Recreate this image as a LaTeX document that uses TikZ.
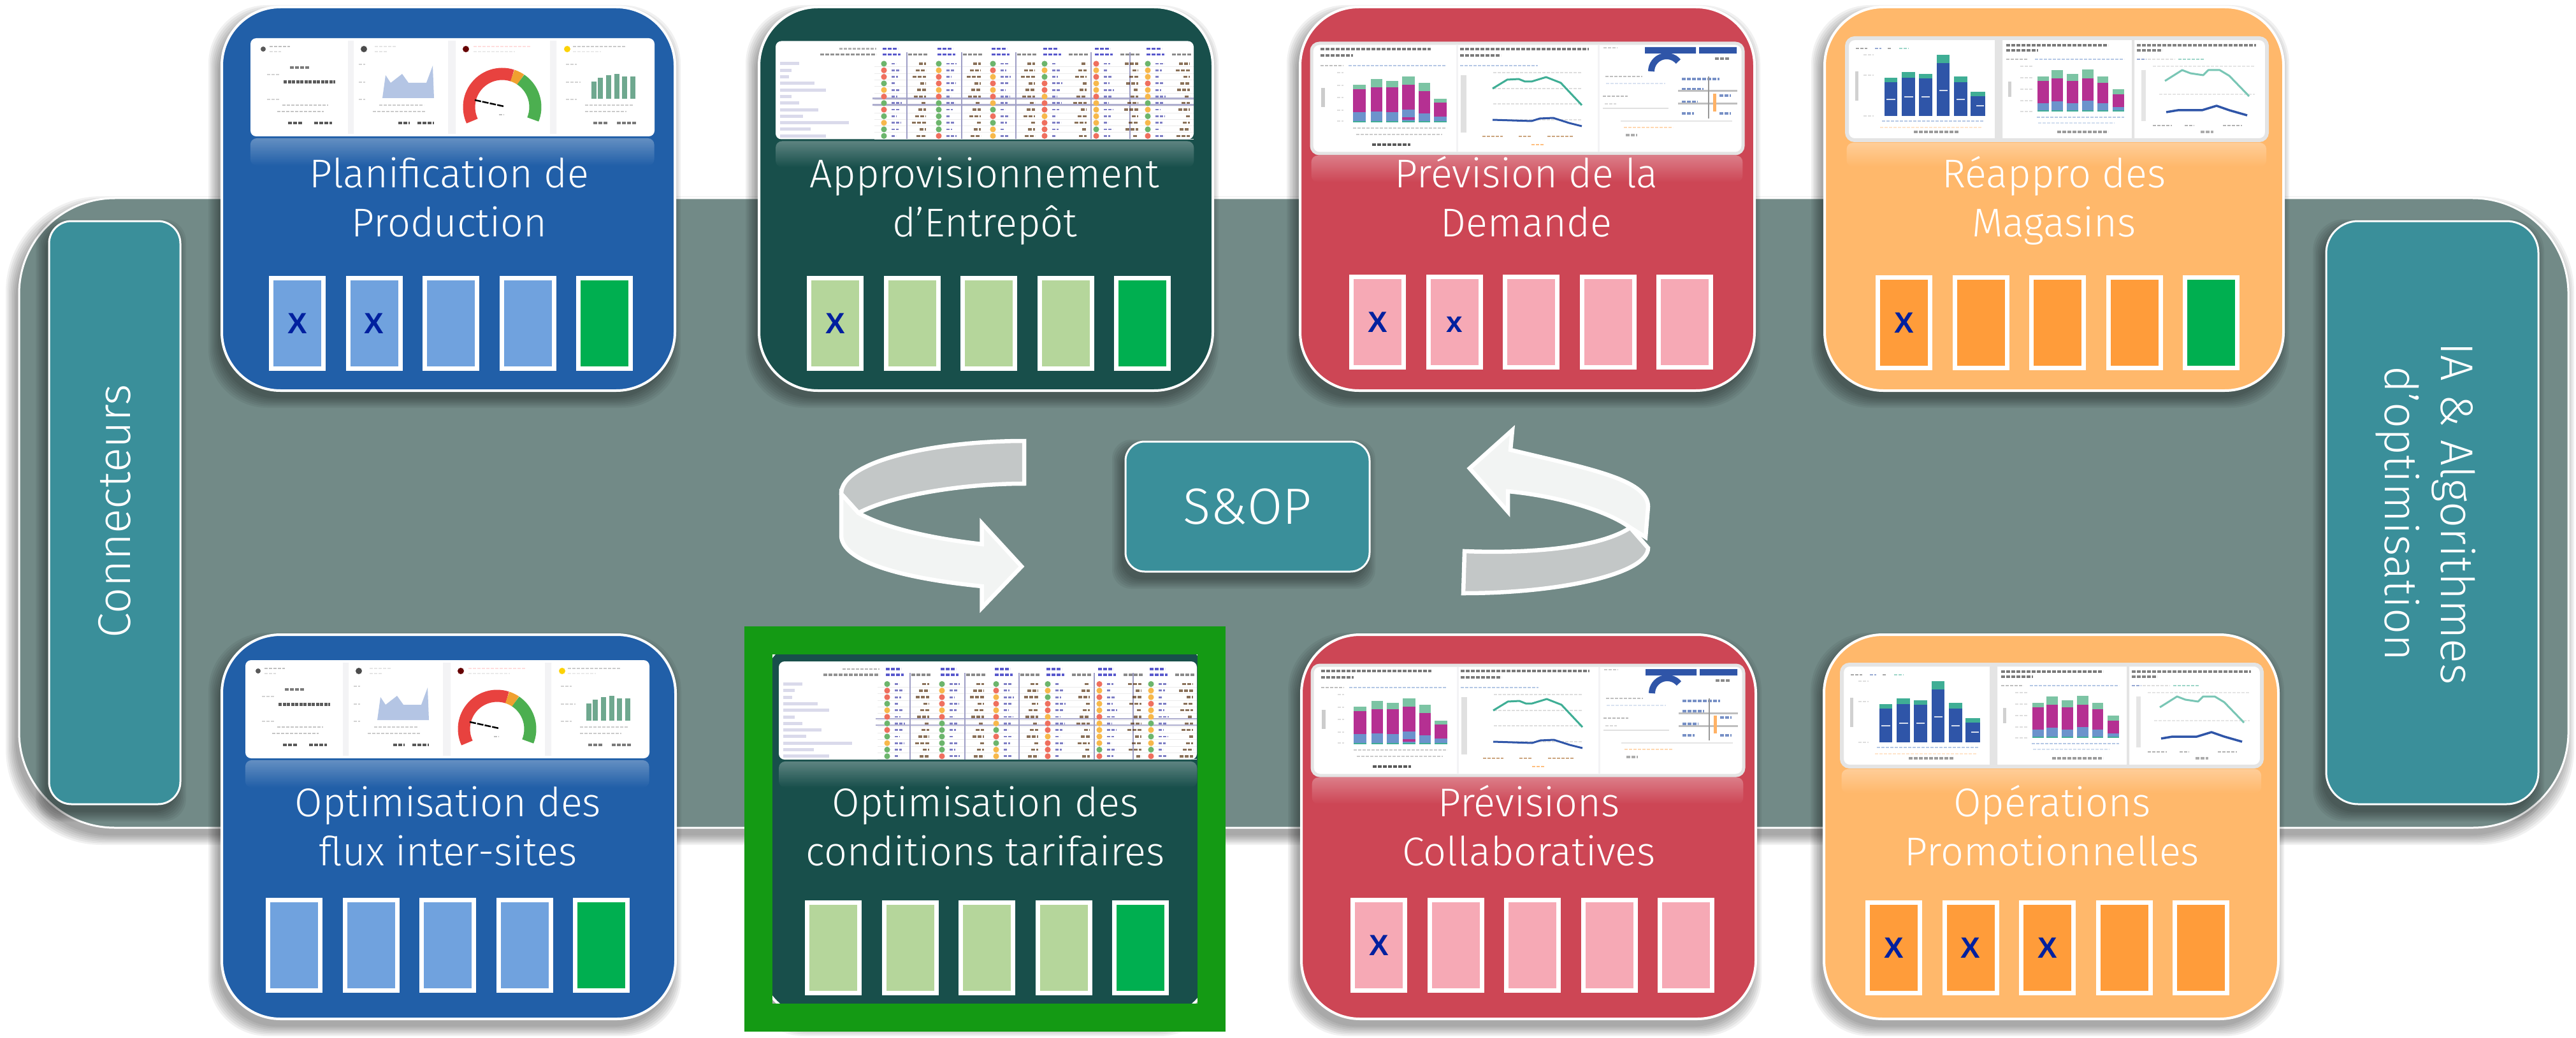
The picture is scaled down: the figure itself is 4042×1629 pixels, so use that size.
\documentclass[tikz,border=0pt]{standalone}
\usepackage{fontspec}
\setmainfont{Liberation Sans}
\newfontfamily\labelfont{Fira Sans Light}
\usetikzlibrary{fadings}
\definecolor{bandc}{HTML}{728A87}
\definecolor{tealc}{HTML}{3A8F9A}
\definecolor{bluec}{HTML}{215FA8}
\definecolor{blues}{HTML}{70A2DE}
\definecolor{greenc}{HTML}{184F4B}
\definecolor{greens}{HTML}{B5D69B}
\definecolor{redc}{HTML}{CD4655}
\definecolor{reds}{HTML}{F6A9B5}
\definecolor{orc}{HTML}{FFB86B}
\definecolor{ors}{HTML}{FF9C3A}
\definecolor{okc}{HTML}{00AF50}
\definecolor{xc}{HTML}{00209F}
\definecolor{framec}{HTML}{149A14}
\definecolor{arrf}{HTML}{F2F4F3}
\definecolor{arrb}{HTML}{C3C7C7}
\definecolor{mint}{HTML}{7CC4A4}
\definecolor{magen}{HTML}{B53092}
\definecolor{midb}{HTML}{6C93CC}
\definecolor{tealb}{HTML}{3FAE95}
\definecolor{darkb}{HTML}{2F55A8}
\definecolor{dotg}{HTML}{6CB56C}
\definecolor{dotr}{HTML}{EF6F5E}
\definecolor{doto}{HTML}{F7B84B}
\definecolor{gaugeg}{HTML}{4CAF50}
\definecolor{gauger}{HTML}{E8423F}
\definecolor{gaugeo}{HTML}{F0A030}
\definecolor{barg}{HTML}{6FA88F}
\definecolor{areab}{HTML}{B4C5E4}
\definecolor{sepc}{HTML}{F3F3F5}
\definecolor{pborder}{HTML}{E4E4E4}
\tikzfading[name=fadedown, top color=transparent!0, bottom color=transparent!100]
\tikzset{
  x=1pt,y=-1pt,
  cardbox/.style={draw=white,line width=4pt,rounded corners=92pt,inner sep=0pt},
  sidebox/.style={draw=white,line width=3pt,fill=tealc,inner sep=0pt,text=white},
  slotbox/.style={draw=white,line width=7pt,inner sep=0pt,minimum width=82pt,minimum height=142pt,text=xc,font=\fontsize{46}{46}\selectfont\bfseries},
  cardtitle/.style={text=white,align=center,anchor=base,inner sep=0pt,font=\labelfont\fontsize{63}{77}\selectfont},
  sidetitle/.style={text=white,align=center,inner sep=0pt,font=\labelfont\fontsize{72}{88}\selectfont},
  arrowpart/.style={draw=white,line width=6.5pt,line join=miter},
  txt/.style={line width=2.8pt,dash pattern=on 5pt off 2pt,opacity=.5},
  txtd/.style={line width=3.4pt,dash pattern=on 6pt off 2pt,opacity=.65},
  reflect/.style={fill=white,opacity=.3,path fading=fadedown,rounded corners=10pt},
}
\newcommand\softshadow[5]{%
  \foreach \i in {0,...,6}{%
    \pgfmathsetmacro\dd{\i*2.5}%
    \fill[black,opacity=.055,rounded corners=#5 pt] ({#1-6-\dd},{#2+12-\dd}) rectangle ({#3-6+\dd},{#4+12+\dd});
  }}
\newcommand\card[6]{%
  \softshadow{#2}{#3}{#4}{#5}{92}%
  \node (#1) [cardbox,fill=#6,minimum width={(#4-#2)*1pt},minimum height={(#5-#3)*1pt}] at ({(#2+#4)/2},{(#3+#5)/2}) {};}
\newcommand\slotx[5]{\node (#1) [slotbox,fill=#4] at ({#2+44.5},{#3+74.5}) {#5};}
\newcommand\slots[8]{%
  \slotx{#1a}{#2}{#3}{#4}{#6}%
  \slotx{#1b}{#2+120.5}{#3}{#4}{#7}%
  \slotx{#1c}{#2+241}{#3}{#4}{#8}%
  \slotx{#1d}{#2+361.5}{#3}{#4}{}%
  \slotx{#1e}{#2+482}{#3}{#5}{}}
\newcommand\bigx{X}
\newcommand\smallx{\vphantom{X}x}
% --- thumbnail A : four tiles with gauge
\newcommand\thumbA[2]{\begin{scope}[shift={(#1,#2)}]
  \fill[reflect] (0,157) rectangle (634,200);
  \fill[white,rounded corners=9pt] (0,0) rectangle (634,154);
  \fill[sepc] (153,4) rectangle (162,150) (310,4) rectangle (322,150) (470,4) rectangle (480,150);
  % tile 1
  \fill[black!65] (20,17) circle (4);
  \draw[txt,black!50] (30,13) -- (62,13); \draw[txt,black!25] (30,21) -- (48,21);
  \draw[txtd,black!80] (62,46) -- (92,46);
  \draw[black!80,line width=5pt,dash pattern=on 5pt off 1.5pt,opacity=.8] (52,69) -- (133,69);
  \draw[txt,black!35] (26,57) -- (45,57) (26,96) -- (45,96);
  \draw[txt,black!45] (50,105) -- (122,105) (42,115) -- (115,115);
  \draw[txtd,black] (59,133) -- (82,133) (100,133) -- (128,133);
  % tile 2
  \fill[black!70] (178,17) circle (5);
  \draw[txt,black!20] (195,13) -- (228,13) (195,21) -- (215,21);
  \fill[areab] (207,94) -- (212,58) -- (220,70) -- (238,56) -- (248,70) -- (276,70) -- (286,43) -- (288,94) -- cycle;
  \draw[txt,black!35] (170,41) -- (180,41) (170,69) -- (180,69) (170,96) -- (180,96);
  \draw[txt,black!40] (202,105) -- (272,105) (192,115) -- (275,115);
  \draw[txtd,black] (232,133) -- (250,133) (262,133) -- (288,133);
  % tile 3
  \fill[black!60!red] (338,17) circle (5);
  \draw[txt,pink] (350,13) -- (440,13); \draw[txt,black!15] (350,21) -- (415,21);
  \draw[gauger,line width=19pt] plot[domain=205:72,samples=30] ({395+52*cos(\x)},{108-52*sin(\x)});
  \draw[gaugeo,line width=19pt] plot[domain=72:56,samples=6] ({395+52*cos(\x)},{108-52*sin(\x)});
  \draw[gaugeg,line width=19pt] plot[domain=56:-22,samples=20] ({395+52*cos(\x)},{108-52*sin(\x)});
  \draw[black,line width=2.5pt,dash pattern=on 10pt off 2pt] (352,97) -- (398,107);
  \draw[txt,black!50] (390,120) -- (398,120);
  % tile 4
  \fill[yellow!70!orange] (497,17) circle (5);
  \draw[txt,black!40] (506,13) -- (588,13); \draw[txt,black!15] (506,21) -- (550,21);
  \foreach \bx/\by in {539/68,549/62,562/58,575/56,587/60,600/60}{\fill[barg] (\bx-4,\by) rectangle (\bx+4,95);}
  \draw[txt,black!35] (495,41) -- (512,41) (495,69) -- (518,69) (495,96) -- (512,96);
  \draw[txt,black!40] (525,105) -- (600,105) (525,115) -- (590,115);
  \draw[txtd,black!80] (538,133) -- (560,133) (575,133) -- (606,133);
\end{scope}}
% --- thumbnail B : table
\newcommand\thumbB[2]{\begin{scope}[shift={(#1,#2)}]
  \fill[reflect] (0,157) rectangle (656,198);
  \fill[white,rounded corners=9pt] (0,0) rectangle (656,154);
  \foreach \lw [count=\rw] in {25,15,12,45,60,15,25,50,30,90,40,60}{
    \pgfmathsetmacro\yy{35.5+10.3*(\rw-1)}
    \draw[line width=5pt,blue!30!gray,opacity=.22] (7,\yy) -- ({7+\lw*1.2},\yy);
    \draw[black!8,line width=1pt] (155,\yy+5) -- (656,\yy+5);
  }
  \draw[line width=2.5pt,blue!25!gray!50] (152,90) -- (656,90) (152,100) -- (656,100);
  \draw[txt,black!60] (100,12) -- (158,12); \draw[txtd,black!65] (70,21) -- (158,21);
  \foreach \sx in {206,292,377,495,556}{\draw[line width=2pt,blue!25!gray!60] (\sx,18) -- (\sx,154);}
  \foreach \cx/\cols in {170/{g,r,r,g,o,r,g,r,g,o,g,g},256/{g,o,r,r,o,r,g,g,g,g,g,r},341/{g,r,o,r,o,r,o,g,r,g,o,o},422/{g,o,g,r,r,o,r,r,o,r,r,r},503/{r,o,r,o,o,r,o,o,o,o,g,r},584/{g,o,o,r,o,o,g,o,g,o,g,r}}{
    \draw[txtd,blue!70!black] (\cx-2,12) -- (\cx+22,12) (\cx-2,21) -- (\cx+26,21);
    \draw[txtd,black!70] (\cx+38,21) -- (\cx+68,21);
    \foreach \dc [count=\rw] in \cols {
      \pgfmathsetmacro\yy{35.5+10.3*(\rw-1)}
      \pgfmathsetmacro\wa{6+mod(\rw*7+\cx,11)}
      \pgfmathsetmacro\wb{6+mod(\rw*5+\cx,17)}
      \fill[dot\dc] (\cx,\yy) circle (4.6);
      \draw[txt,black!45!blue] (\cx+12,\yy) -- (\cx+12+\wa,\yy);
      \draw[txtd,black!70!orange] (\cx+66-\wb,\yy) -- (\cx+66,\yy);
    }
  }
\end{scope}}
% --- thumbnail C : stacked bars, lines, controls
\newcommand\thumbC[2]{\begin{scope}[shift={(#1,#2)}]
  \fill[reflect] (0,176) rectangle (677,218);
  \draw[pborder,fill=white,line width=5pt,rounded corners=12pt] (0,0) rectangle (677,173);
  \draw[sepc,line width=3pt] (228,3) -- (228,170) (450,3) -- (450,170);
  \draw[txtd,black!80] (14,9) -- (187,9) (233,9) -- (435,9) (14,19) -- (65,19) (233,19) -- (297,19);
  \draw[txt,black!50] (14,35) -- (50,35); \draw[txt,midb] (58,35) -- (210,35) (233,35) -- (355,35);
  \draw[txt,black!25] (40,46) -- (50,46) (40,66) -- (50,66) (40,85) -- (50,85) (40,105) -- (50,105) (40,122) -- (50,122);
  \draw[line width=6pt,black!20] (18,70) -- (18,100);
  \foreach \xa/\xb/\ya/\yb/\yc in {65/85/65/72/108,93/111/56/69/107,117/136/59/69/108,142/162/52/65/104,168/186/62/75/110,192/212/87/93/115}{
    \fill[mint] (\xa,\ya) rectangle (\xb,\yb);
    \fill[magen] (\xa,\yb) rectangle (\xb,\yc);
    \fill[midb] (\xa,\yc) rectangle (\xb,122);
    \fill[tealb] (\xa,122) rectangle (\xb,124);
  }
  \fill[magen] (142,116) rectangle (162,120);
  \draw[txt,black!40] (65,133) -- (212,133) (70,143) -- (205,143);
  \draw[txtd,black] (95,159) -- (155,159);
  \draw[line width=9pt,black!12] (238,50) -- (238,140);
  \draw[txt,black!25] (285,46) -- (424,46) (285,71) -- (424,71) (285,95) -- (424,95) (285,120) -- (424,120);
  \draw[tealb,line width=3pt,line join=round] (284,71) -- (307,57) -- (325,56) -- (335,60) -- (345,60) -- (368,53) -- (391,62) -- (424,97);
  \draw[darkb,line width=3pt,line join=round] (284,120) -- (345,122) -- (358,118) -- (379,117) -- (404,125) -- (424,130);
  \draw[txt,orange!60!black] (268,146) -- (300,146) (325,146) -- (345,146) (370,146) -- (410,146);
  \draw[txt,orange] (345,159) -- (365,159);
  \fill[darkb] (523,6) rectangle (603,16) (608,6) rectangle (667,16);
  \draw[darkb,line width=10pt] plot[domain=180:40,samples=16] ({557+24*cos(\x)},{44-24*sin(\x)});
  \draw[txt,black!40] (458,7) -- (480,7);
  \draw[txtd,black!70] (633,24) -- (655,24);
  \draw[txt,black!50] (461,52) -- (519,52); \draw[txt,midb!50] (462,63) -- (555,63);
  \draw[txt,black!55] (457,83) -- (496,83); \draw[black!12,line width=1.5pt] (457,102) -- (560,102);
  \draw[txt,black!30] (460,95) -- (478,95);
  \draw[txtd,darkb] (581,56) -- (640,56) (581,72) -- (615,72) (581,92) -- (606,92) (640,82) -- (658,82) (581,110) -- (600,110) (640,110) -- (658,110);
  \draw[line width=3pt,black!25] (575,75) -- (668,75) (575,95) -- (668,95);
  \draw[line width=2pt,black!40] (623,52) -- (623,118);
  \draw[line width=5pt,orange!60] (632,79) -- (632,107);
  \draw[txt,orange!60] (490,132) -- (567,132);
  \draw[txtd,black!50] (493,144) -- (511,144);
  \draw[black!10,line width=1.5pt] (485,122) -- (660,122);
\end{scope}}
% --- thumbnail D : blue bars, stacked bars, lines
\newcommand\thumbD[2]{\begin{scope}[shift={(#1,#2)}]
  \fill[reflect] (0,164) rectangle (659,202);
  \draw[pborder,fill=white,line width=6pt,rounded corners=12pt] (0,0) rectangle (659,160);
  \fill[pborder] (232,3) rectangle (244,158) (447,3) rectangle (451,158);
  \draw[txt,black!70] (14,16) -- (32,16) (64,16) -- (70,16); \draw[txt,darkb] (44,16) -- (54,16); \draw[txt,tealb] (82,16) -- (97,16);
  \draw[txt,black!25] (26,26) -- (42,26) (26,58) -- (42,58) (26,122) -- (42,122);
  \draw[line width=5pt,black!18] (15,52) -- (15,98);
  \foreach \xa/\xb/\ya/\yb in {59/79/62/69,86/107/53/62,113/134/56/63,141/161/26/39,168/189/60/69,194/217/84/91}{
    \fill[tealb] (\xa,\ya) rectangle (\xb,\yb);
    \fill[darkb] (\xa,\yb) rectangle (\xb,122);
  }
  \draw[white,line width=2pt,opacity=.8] (62,96) -- (76,96) (90,92) -- (104,92) (117,92) -- (130,92) (145,82) -- (158,82) (172,96) -- (185,96) (203,106) -- (215,106);
  \draw[txt,midb] (55,130) -- (215,130);
  \draw[txt,orange!40] (52,140) -- (212,140);
  \draw[txtd,black!60] (105,147) -- (175,147);
  \draw[txtd,black!80] (250,11) -- (410,11) (250,19) -- (300,19);
  \draw[txt,black!50] (250,33) -- (285,33); \draw[txt,midb] (295,33) -- (435,33);
  \draw[txt,black!25] (272,44) -- (292,44) (272,62) -- (292,62) (272,80) -- (292,80) (272,98) -- (292,98) (272,115) -- (292,115);
  \draw[line width=5pt,black!18] (255,68) -- (255,92);
  \foreach \xa/\xb/\ya/\yb/\yc in {299/317/60/67/102,321/339/50/63/99,345/363/56/67/102,369/387/49/63/98,393/410/60/70/102,417/435/80/88/108}{
    \fill[mint] (\xa,\ya) rectangle (\xb,\yb);
    \fill[magen] (\xa,\yb) rectangle (\xb,\yc);
    \fill[midb] (\xa,\yc) rectangle (\xb,113);
    \fill[tealb] (\xa,113) rectangle (\xb,115);
  }
  \draw[txt,midb] (298,124) -- (435,124);
  \draw[txt,midb!60] (300,133) -- (420,133);
  \draw[txtd,black!60] (330,147) -- (410,147);
  \draw[txtd,black!75] (455,11) -- (642,11) (455,19) -- (495,19);
  \draw[txt,darkb] (455,33) -- (470,33); \draw[txt,black!25] (472,33) -- (515,33); \draw[txt,tealb] (520,33) -- (560,33);
  \draw[line width=7pt,black!10] (465,50) -- (465,130);
  \draw[txt,black!20] (480,44) -- (640,44) (490,88) -- (640,88);
  \draw[tealb!70,line width=3pt,line join=round] (499,67) -- (526,50) -- (539,55) -- (559,58) -- (567,50) -- (585,50) -- (600,59) -- (631,91);
  \draw[darkb,line width=3.5pt,line join=round] (501,116) -- (519,113) -- (557,113) -- (580,106) -- (600,113) -- (628,121);
  \draw[txt,black!60] (480,137) -- (510,137) (530,137) -- (545,137) (590,137) -- (620,137);
  \draw[txtd,black!50] (555,147) -- (575,147);
\end{scope}}
\begin{document}
\begin{tikzpicture}
\useasboundingbox (0,0) rectangle (4042,1629);
\fill[white] (0,0) rectangle (4042,1629);
% band
\softshadow{30}{311}{4030}{1299}{150}
\node (band) [draw=white,line width=3pt,fill=bandc,rounded corners=150pt,inner sep=0pt,minimum width=4000pt,minimum height=988pt] at (2030,805) {};
% side boxes
\softshadow{77}{347}{283}{1262}{35}
\node (conn) [sidebox,rounded corners=35pt,minimum width=206pt,minimum height=915pt] at (180,804.5) {};
\node (connt) [sidetitle,rotate=90] at (180,802) {Connecteurs};
\softshadow{3650}{347}{3983}{1262}{50}
\node (ia) [sidebox,rounded corners=50pt,minimum width=333pt,minimum height=915pt] at (3816.5,804.5) {};
\node (iat) [sidetitle,rotate=-90] at (3806,806) {IA \& Algorithmes\\d’optimisation};
% row 1
\card{c1}{348}{11}{1059}{613}{bluec}
\thumbA{393}{60}
\node (t1) [cardtitle] at (705,371) {Planification de\\Production};
\slots{s1}{422}{433}{blues}{okc}{\bigx}{\bigx}{}
\card{c2}{1191}{11}{1903}{613}{greenc}
\thumbB{1217}{64.5}
\node (t2) [cardtitle] at (1545,371) {Approvisionnement\\d’Entrepôt};
\slots{s2}{1266}{433}{greens}{okc}{\bigx}{}{}
\card{c3}{2040}{11}{2753}{613}{redc}
\thumbC{2058}{68}
\node (t3) [cardtitle] at (2395,371) {Prévision de la\\Demande};
\slots{s3}{2117}{431}{reds}{reds}{\bigx}{\smallx}{}
\card{c4}{2863}{11}{3583}{613}{orc}
\thumbD{2898}{60}
\node (t4) [cardtitle] at (3223,371) {Réappro des\\Magasins};
\slots{s4}{2943}{432}{ors}{okc}{\bigx}{}{}
% row 2
\card{c5}{348}{996}{1060}{1599}{bluec}
\thumbA{385}{1036}
\node (t5) [cardtitle] at (703,1358) {Optimisation des\\flux inter-sites};
\slots{s5}{417}{1409}{blues}{okc}{}{}{}
\card{c6}{1191}{996}{1903}{1599}{greenc}
\thumbB{1222}{1038}
\node (t6) [cardtitle] at (1546,1358) {Optimisation des\\conditions tarifaires};
\slots{s6}{1263}{1413}{greens}{okc}{}{}{}
\node (frame) [draw=framec,line width=44pt,inner sep=0pt,minimum width=711pt,minimum height=592pt] at (1545.5,1301) {};
\card{c7}{2042}{996}{2755}{1599}{redc}
\thumbC{2059}{1044}
\node (t7) [cardtitle] at (2399,1358) {Prévisions\\Collaboratives};
\slots{s7}{2119}{1409}{reds}{reds}{\bigx}{}{}
\card{c8}{2862}{996}{3575}{1599}{orc}
\thumbD{2890}{1043}
\node (t8) [cardtitle] at (3220,1358) {Opérations\\Promotionnelles};
\slots{s8}{2927}{1413}{ors}{ors}{\bigx}{\bigx}{\bigx}
% centre
\softshadow{1766}{693}{2149}{897}{30}
\node (sop) [sidebox,rounded corners=30pt,minimum width=383pt,minimum height=204pt,font=\labelfont\fontsize{80}{80}\selectfont] at (1957.5,795) {S\&OP};
% left rotating arrow
\draw[arrowpart,fill=arrb] (1607,692) .. controls (1470,692) and (1320,722) .. (1320,775) -- (1347,805) .. controls (1400,777) and (1510,759) .. (1607,759) -- cycle;
\draw[arrowpart,fill=arrf] (1320,775) -- (1320,840) .. controls (1320,880) and (1410,907) .. (1540.5,920) -- (1540.5,954) -- (1603,889) -- (1540.5,821) -- (1540.5,854) .. controls (1470,846) and (1390,830) .. (1347,805) -- cycle;
% right rotating arrow
\draw[arrowpart,fill=arrb] (2298,865) .. controls (2400,869) and (2510,860) .. (2558,828) -- (2586,860) .. controls (2586,900) and (2450,931) .. (2296,931) -- cycle;
\draw[arrowpart,fill=arrf] (2306,735) -- (2373,675) -- (2370,706) .. controls (2490,735) and (2586,752) .. (2586,795) -- (2582,843) -- (2558,828) .. controls (2520,800) and (2440,778) .. (2366,771) -- (2366,803) -- cycle;
\end{tikzpicture}
\end{document}
